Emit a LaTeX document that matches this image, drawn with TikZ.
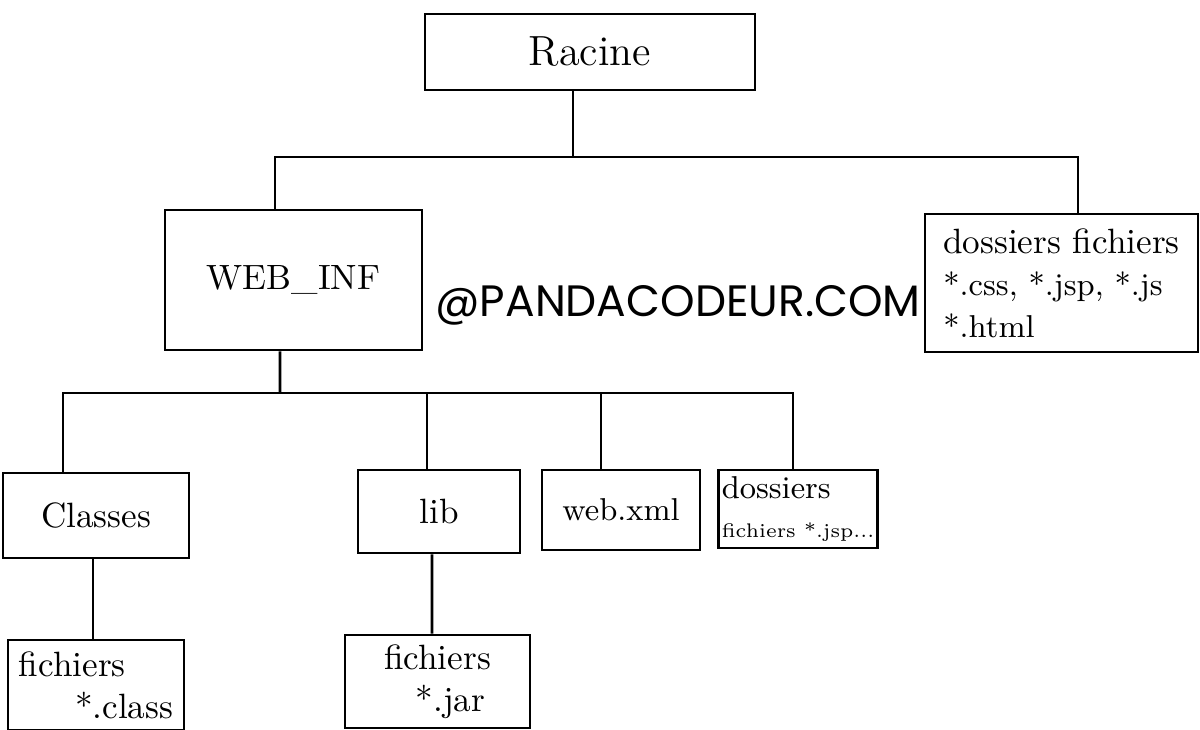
\documentclass[tikz,border=0pt]{standalone}
\usepackage{fontspec}
\newfontfamily\markfont{Poppins}
\usepackage{tikz}
\usetikzlibrary{positioning, calc}

\begin{document}
\begin{tikzpicture}[
        box/.style={draw=black, line width=0.8pt, align=center, font=\normalsize, inner sep=2pt},
        wire/.style={line width=0.8pt, black}
    ]
        \useasboundingbox (0,0) rectangle (12,-7.3);
        \node[box, minimum width=3.30cm, minimum height=0.76cm, font=\large] (racine) at (5.90,-0.52) {Racine};
        \node[box, minimum width=2.57cm, minimum height=1.40cm] (webinf) at (2.935,-2.80) {WEB\_INF};
        \node[box, minimum width=2.73cm, minimum height=1.38cm, align=left] (dossiers) at (10.615,-2.83) {dossiers fichiers\\{\small *.css, *.jsp, *.js}\\{\small *.html}};
        \node[box, minimum width=1.86cm, minimum height=0.85cm] (classes) at (0.96,-5.155) {Classes};
        \node[box, minimum width=1.62cm, minimum height=0.83cm] (lib) at (4.39,-5.115) {lib};
        \node[box, minimum width=1.58cm, minimum height=0.80cm, font=\small] (webxml) at (6.21,-5.10) {web.xml};
        \node[box, minimum width=1.56cm, minimum height=0.78cm, align=left, font=\small, inner sep=1pt] (dossjsp) at (7.98,-5.09) {dossiers\\{\fontsize{5.6}{7}\selectfont fichiers *.jsp...}};
        \node[box, minimum width=1.76cm, minimum height=0.90cm, align=left] (fclass) at (0.96,-6.85) {fichiers\\\hspace*{1.6em}*.class};
        \node[box, minimum width=1.85cm, minimum height=0.93cm, align=left] (fjar) at (4.375,-6.815) {fichiers\\\hspace*{0.9em}*.jar};
        \node[font=\markfont] (mark) at (6.78,-3.05) {\resizebox{4.85cm}{!}{@PANDACODEUR.COM}};
        % bus junctions
        \coordinate (j0) at (5.73,-1.57);
        \coordinate (j1) at (2.80,-3.93);
        \draw[wire] ([xshift=-0.17cm]racine.south) -- (j0);
        \draw[wire] ([xshift=-0.185cm]webinf.north) |- (j0) -| ([xshift=0.165cm]dossiers.north);
        \draw[wire] ([xshift=-0.135cm]webinf.south) -- (j1);
        \draw[wire] ([xshift=-0.33cm]classes.north) |- (j1) -| ([xshift=-0.05cm]dossjsp.north);
        \draw[wire] ([xshift=-0.12cm]lib.north) -- ([xshift=-0.12cm]lib.north |- j1);
        \draw[wire] ([xshift=-0.20cm]webxml.north) -- ([xshift=-0.20cm]webxml.north |- j1);
        \draw[wire] ([xshift=-0.03cm]classes.south) -- ([xshift=-0.03cm]fclass.north);
        \draw[wire] ([xshift=-0.07cm]lib.south) -- ([xshift=-0.055cm]fjar.north);
    \end{tikzpicture}
\end{document}
